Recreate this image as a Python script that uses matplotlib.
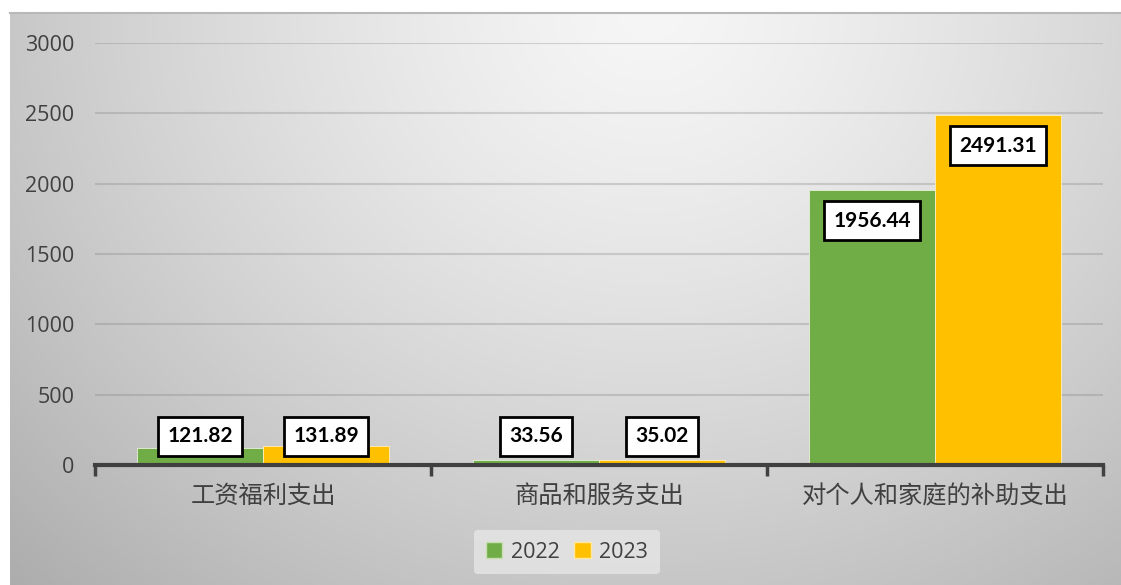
import numpy as np
import matplotlib
matplotlib.use("Agg")
import matplotlib.pyplot as plt
from matplotlib.patches import Patch

categories = ["工资福利支出", "商品和服务支出", "对个人和家庭的补助支出"]
series_names = ["2022", "2023"]
values_2022 = [121.82, 33.56, 1956.44]
values_2023 = [131.89, 35.02, 2491.31]
yticks = [0, 500, 1000, 1500, 2000, 2500, 3000]

colors = ["#70AD47", "#FFC000"]

W, H = 1121, 585
fig = plt.figure(figsize=(W / 100, H / 100), dpi=100)
fig.patch.set_facecolor("white")

# gradient background panel
bg = fig.add_axes([10 / W, 0, 1 - 10 / W, (H - 13) / H], zorder=-10)
xs = np.linspace(10, W, 400)
ys = np.linspace(13, H, 220)
X, Y = np.meshgrid(xs, ys)
d = np.sqrt(((X - 650) / 700) ** 2 + ((Y - 10) / 620) ** 2)
val = (246 - 52 * np.clip(d, 0, 1.3) ** 1.3) / 255.0
img = np.dstack([val, val, val])
bg.imshow(img, aspect="auto", extent=[0, 1, 0, 1], origin="upper")
bg.plot([0, 1], [1, 1], color="#b8b8b8", lw=1.5, transform=bg.transAxes, clip_on=False)
bg.set_axis_off()

ax = fig.add_axes([95 / W, 1 - 465 / H, (1103 - 95) / W, (465 - 43) / H])
ax.set_facecolor("none")
x = np.arange(len(categories))
bw = 0.375
b1 = ax.bar(x - bw / 2, values_2022, bw, color=colors[0], edgecolor="#e8f0d8", linewidth=0.6, zorder=3)
b2 = ax.bar(x + bw / 2, values_2023, bw, color=colors[1], edgecolor="#fff0c0", linewidth=0.6, zorder=3)

ax.set_xlim(-0.5, len(categories) - 0.5)
ax.set_ylim(0, 3000)
ax.set_yticks(yticks)
ax.set_yticklabels([str(t) for t in yticks], fontsize=15.5, color="#404040", family=["Open Sans", "DejaVu Sans"])
ax.tick_params(axis="y", length=0, pad=15)
for t in yticks[1:]:
    ax.axhline(t, color="#808080", alpha=0.3, lw=1.5, zorder=1)

ax.set_xticks(np.arange(len(categories) + 1) - 0.5)
ax.set_xticklabels([])
ax.tick_params(axis="x", which="major", length=8, width=2.5, color="#404040", direction="out")
ax.set_xticks(x, minor=True)
ax.set_xticklabels(categories, minor=True, fontsize=17.5, color="#404040",
                   family=["Noto Sans CJK SC", "DejaVu Sans"])
ax.tick_params(axis="x", which="minor", length=0, pad=13)

for s in ["top", "right", "left"]:
    ax.spines[s].set_visible(False)
ax.spines["bottom"].set_color("#404040")
ax.spines["bottom"].set_linewidth(3)
ax.spines["bottom"].set_zorder(5)

def label(bars, vals):
    for rect, v in zip(bars, vals):
        cx = rect.get_x() + rect.get_width() / 2
        y = max(v - 220, 205)
        ax.text(cx, y, f"{v:.2f}", ha="center", va="center", fontsize=15, fontweight="bold",
                family=["Lato", "DejaVu Sans"], color="black", zorder=6,
                bbox=dict(boxstyle="square,pad=0.45", facecolor="white", edgecolor="black", linewidth=2))

label(b1, values_2022)
label(b2, values_2023)

handles = [Patch(facecolor=colors[0], edgecolor="#c8e0b0", label=series_names[0]),
           Patch(facecolor=colors[1], edgecolor="#ffe8a0", label=series_names[1])]
leg = fig.legend(handles=handles, loc="center", bbox_to_anchor=(567 / W, 1 - 552 / H), ncol=2,
                 frameon=True, handlelength=0.75, handleheight=0.75, handletextpad=0.4,
                 columnspacing=0.7, borderpad=0.55, prop={"family": ["Open Sans", "DejaVu Sans"], "size": 15.5})
leg.get_frame().set_facecolor("#e6e6e6")
leg.get_frame().set_edgecolor("none")
leg.get_frame().set_alpha(0.8)
for t in leg.get_texts():
    t.set_color("#404040")

fig.savefig("out.png", dpi=100)
